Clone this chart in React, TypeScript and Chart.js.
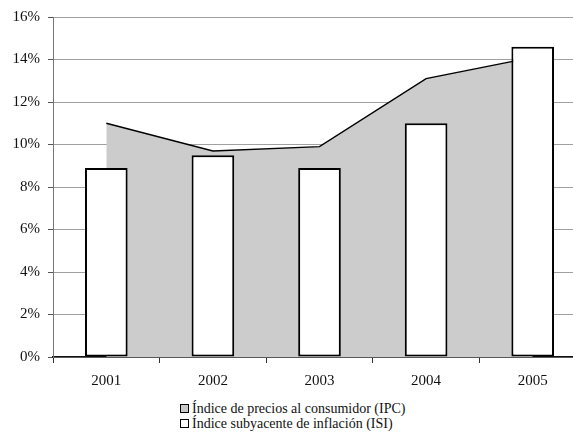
import React, { useEffect, useRef } from "react";
import { Chart, registerables } from "chart.js";

Chart.register(...registerables);

const years = ["2001", "2002", "2003", "2004", "2005"];
const ipc = [11.0, 9.7, 9.9, 13.1, 14.1];
const isi = [8.9, 9.5, 8.9, 11.0, 14.6];
const legendLabels = [
  "Índice de precios al consumidor (IPC)",
  "Índice subyacente de inflación (ISI)",
];
const legendFills = ["#c8c8c8", "#ffffff"];

const FONT = "'Liberation Serif', 'Times New Roman', serif";

export default function App() {
  const ref = useRef<HTMLCanvasElement | null>(null);

  useEffect(() => {
    if (!ref.current) return;
    const chart = new Chart(ref.current, {
      type: "bar",
      data: {
        labels: years,
        datasets: [
          {
            type: "line",
            label: legendLabels[0],
            data: ipc,
            fill: "origin",
            backgroundColor: "#cccccc",
            borderColor: "#000000",
            borderWidth: 1.5,
            pointRadius: 0,
            tension: 0,
            order: 2,
          } as any,
          {
            type: "bar",
            label: legendLabels[1],
            data: isi,
            backgroundColor: "#ffffff",
            borderColor: "#000000",
            borderWidth: 2,
            borderSkipped: false,
            categoryPercentage: 1,
            barPercentage: 0.4,
            order: 1,
          } as any,
        ],
      },
      options: {
        responsive: false,
        animation: false,
        devicePixelRatio: 1,
        layout: { padding: { top: 17, left: 0, right: 0, bottom: 0 } },
        plugins: {
          legend: { display: false },
          tooltip: { enabled: false },
        },
        scales: {
          x: {
            offset: true,
            grid: {
              offset: true,
              drawOnChartArea: false,
              drawTicks: true,
              tickLength: 6,
              tickColor: "#333333",
            },
            border: { color: "#111111", width: 1.5 },
            ticks: {
              color: "#111111",
              padding: 9,
              font: { family: FONT, size: 15 },
            },
            afterFit: (scale: any) => {
              scale.height = 43;
            },
          },
          y: {
            min: 0,
            max: 16,
            ticks: {
              stepSize: 2,
              color: "#111111",
              padding: 8,
              font: { family: FONT, size: 15 },
              callback: (v: any) => v + "%",
            },
            grid: {
              color: "#a0a0a0",
              lineWidth: 1,
              tickLength: 5,
              tickColor: "#555555",
            },
            border: { color: "#777777", width: 1 },
            afterFit: (scale: any) => {
              scale.width = 53;
            },
          },
        },
      },
    });
    return () => chart.destroy();
  }, []);

  return (
    <div
      style={{
        position: "fixed",
        left: 0,
        top: 0,
        width: 573,
        height: 435,
        overflow: "hidden",
        background: "#ffffff",
      }}
    >
      <canvas
        ref={ref}
        width={586}
        height={400}
        style={{ position: "absolute", left: 0, top: 0, width: 586, height: 400 }}
      />
      <div
        style={{
          position: "absolute",
          left: 180,
          top: 401,
          fontFamily: FONT,
          fontSize: 14,
          lineHeight: "15px",
          color: "#111111",
          whiteSpace: "nowrap",
        }}
      >
        {legendLabels.map((t, i) => (
          <div key={i} style={{ display: "flex", alignItems: "center" }}>
            <span
              style={{
                display: "inline-block",
                width: 7,
                height: 7,
                border: "1px solid #000",
                background: legendFills[i],
                marginRight: 3,
              }}
            />
            <span>{t}</span>
          </div>
        ))}
      </div>
    </div>
  );
}
